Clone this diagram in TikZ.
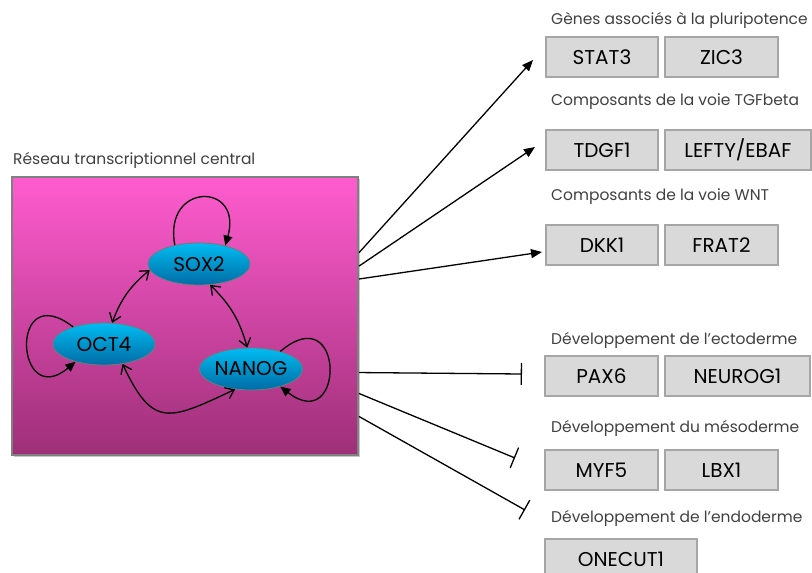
\documentclass[tikz,border=0pt]{standalone}
\usepackage{fontspec}
\setmainfont{Poppins}
\usepackage{xcolor}
\definecolor{netpink}{RGB}{255,92,207}
\definecolor{netplum}{RGB}{158,47,120}
\definecolor{factcyan}{RGB}{0,188,242}
\definecolor{factblue}{RGB}{0,108,165}
\definecolor{genegray}{RGB}{217,217,217}
\definecolor{geneline}{RGB}{166,166,166}
\definecolor{labelgray}{RGB}{64,64,64}
\usepackage{tikz}
\usetikzlibrary{
  arrows.meta,
  positioning,
  shapes.geometric,
  shadows
}

\begin{document}
\begin{tikzpicture}[
    x=1pt, y=-1pt,
    gene/.style={
      rectangle, draw=geneline, fill=genegray, line width=1.2pt,
      minimum width=#1, minimum height=40pt, inner sep=0pt,
      font=\fontsize{20}{22}\selectfont
    },
    gene/.default=112pt,
    factor/.style={
      ellipse, draw=gray!80!teal, line width=0.8pt,
      top color=factcyan, bottom color=factblue,
      minimum width=102pt, minimum height=42pt, inner sep=0pt,
      font=\fontsize{20}{22}\selectfont
    },
    group/.style={
      anchor=west, inner sep=0pt, text=labelgray,
      font=\fontsize{15.5}{17}\selectfont
    },
    link/.style={line width=1.3pt, -{Triangle[length=11pt,width=9pt]}},
    block/.style={line width=1.3pt, -{Bar[width=22pt,line width=1.3pt]}},
    loop/.style={line width=1.3pt, -{Triangle[length=10pt,width=9pt]}},
    mutual/.style={line width=1.3pt,
      {Straight Barb[length=8pt,width=12pt]}-{Straight Barb[length=8pt,width=12pt]}}
  ]
  \useasboundingbox (0,0) rectangle (812,573);

  %% Central network
  \node[group] (netlabel) at (13,160) {Réseau transcriptionnel central};
  \node[draw=gray, line width=2pt, top color=netpink, bottom color=netplum,
        minimum width=346pt, minimum height=278pt,
        drop shadow={shadow xshift=2pt, shadow yshift=-2pt, fill=black!30, opacity=0.7}]
        (net) at (185,316) {};

  \node[factor] (sox)   at (199,264) {SOX2};
  \node[factor] (oct)   at (104,344) {OCT4};
  \node[factor] (nanog) at (251,369) {NANOG};

  \draw[loop] (sox.142) .. controls +(-12,-63) and +(18,-64) .. (sox.35);
  \draw[loop] (oct.151) .. controls +(-65,-50) and +(-60,50) .. (oct.212);
  \draw[loop] (nanog.31) .. controls +(65,-55) and +(65,50) .. (nanog.-31);

  \draw[mutual] (sox.187) to[bend right=15] (oct.69);
  \draw[mutual] (sox.-62) to[bend left=15] (nanog.100);
  \draw[mutual] (oct.-47) to[out=-65, in=205, looseness=1.6] (nanog.232);

  %% Target groups
  \node[group] (g1) at (551,20)  {Gènes associés à la pluripotence};
  \node[gene]        (stat)   at (602,57)    {STAT3};
  \node[gene=113pt]  (zic)    at (721.5,57)  {ZIC3};

  \node[group] (g2) at (551,102) {Composants de la voie TGFbeta};
  \node[gene]        (tdgf)   at (602,150)   {TDGF1};
  \node[gene=146pt]  (lefty)  at (738,150)   {LEFTY/EBAF};

  \node[group] (g3) at (551,197) {Composants de la voie WNT};
  \node[gene]        (dkk)    at (602,245)   {DKK1};
  \node[gene=113pt]  (frat)   at (721.5,245) {FRAT2};

  \node[group] (g4) at (551,340) {Développement de l'ectoderme};
  \node[gene=113pt]  (pax)    at (601.5,376) {PAX6};
  \node[gene=145pt]  (neurog) at (737.5,376) {NEUROG1};

  \node[group] (g5) at (551,428) {Développement du mésoderme};
  \node[gene=113pt]  (myf)    at (601.5,470) {MYF5};
  \node[gene=113pt]  (lbx)    at (721.5,470) {LBX1};

  \node[group] (g6) at (551,518) {Développement de l'endoderme};
  \node[gene=152pt]  (onecut) at (621,559)   {ONECUT1};

  %% Activation and repression
  \coordinate (a1) at (533,60);
  \coordinate (a2) at (535,147);
  \coordinate (a3) at (542,252);
  \coordinate (b1) at (522,374);
  \coordinate (b2) at (515,458);
  \coordinate (b3) at (525,510);

  \draw[link]  (net.20)    -- (a1);
  \draw[link]  (net.16)    -- (a2);
  \draw[link]  (net.12)    -- (a3);
  \draw[block] (net.-18.5) -- (b1);
  \draw[block] (net.-24.5) -- (b2);
  \draw[block] (net.-30.5) -- (b3);

\end{tikzpicture}
\end{document}
